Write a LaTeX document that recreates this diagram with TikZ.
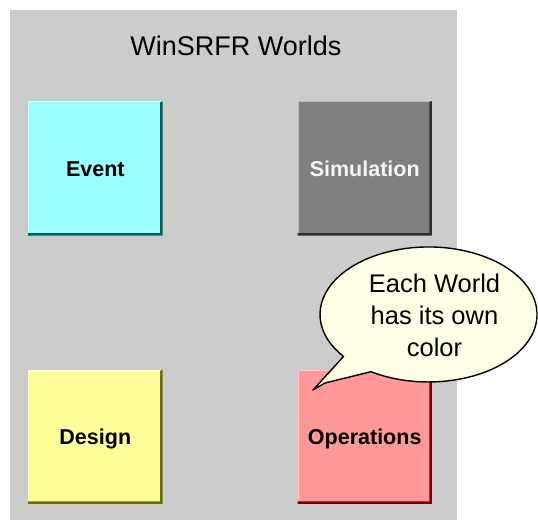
\documentclass[tikz,border=0pt]{standalone}
\usepackage{fontspec}
\setmainfont{Liberation Sans}
\definecolor{panelgray}{HTML}{CCCCCC}
\definecolor{eventfill}{HTML}{99FFFF}
\definecolor{eventshade}{HTML}{006363}
\definecolor{simfill}{HTML}{808080}
\definecolor{simshade}{HTML}{2E2E2E}
\definecolor{designfill}{HTML}{FFFF99}
\definecolor{designshade}{HTML}{6E6E00}
\definecolor{opsfill}{HTML}{FF9999}
\definecolor{opsshade}{HTML}{7A0000}
\definecolor{tipfill}{HTML}{FFFFE6}
\tikzset{
  worldbox/.style={minimum width=134pt, minimum height=134pt, inner sep=0pt,
    text height=15.5pt, text depth=0pt,
    font=\bfseries\fontsize{21.5}{24}\selectfont},
  titletext/.style={font=\fontsize{27}{30}\selectfont, inner sep=0pt, anchor=base},
  tiptext/.style={font=\fontsize{25.5}{32}\selectfont, align=center, inner sep=0pt},
  callout/.style={fill=tipfill, draw=black, line width=1.4pt, line join=round},
}
\newcommand{\mkworld}[6]{%
  \node[worldbox, fill=#3, text=#5] (#1) at #2 {#6};
  \fill[#4] (#1.north east) -- (#1.south east) -- (#1.south west)
     -- ([yshift=2.5pt]#1.south west) -- ([xshift=-2.5pt,yshift=2.5pt]#1.south east)
     -- ([xshift=-2.5pt,yshift=-1.5pt]#1.north east) -- cycle;
  \draw[#3!55!white, line width=1pt]
     ([xshift=0.5pt,yshift=3pt]#1.south west) -- ([xshift=0.5pt,yshift=-0.5pt]#1.north west)
     -- ([xshift=-3pt,yshift=-0.5pt]#1.north east);
}
\begin{document}
\begin{tikzpicture}[x=1pt,y=-1pt]
\useasboundingbox (0,0) rectangle (538,520);
\fill[panelgray] (10,10) rectangle (457,520);
\node[titletext] (title) at (235.8,55) {WinSRFR Worlds};
\mkworld{event}{(95.3,168.3)}{eventfill}{eventshade}{black}{Event}
\mkworld{sim}{(364.7,168.3)}{simfill}{simshade}{white!96!black}{Simulation}
\mkworld{design}{(95.3,436.7)}{designfill}{designshade}{black}{Design}
\mkworld{ops}{(364.7,436.7)}{opsfill}{opsshade}{black}{Operations}
\coordinate (tipbase) at (343.5,356.5);
\coordinate (tippoint) at (313,390);
\coordinate (tipmid) at (325,383);
\coordinate (tipend) at (371,371.7);
\draw[callout] (tipbase) -- (tippoint) -- (tipmid) -- (tipend)
   arc[start angle=122, end angle=-218.5, x radius=108.5, y radius=67.5] -- cycle;
\node[tiptext] (note) at (434.5,315.8) {Each World\\has its own\\color};
\end{tikzpicture}
\end{document}
